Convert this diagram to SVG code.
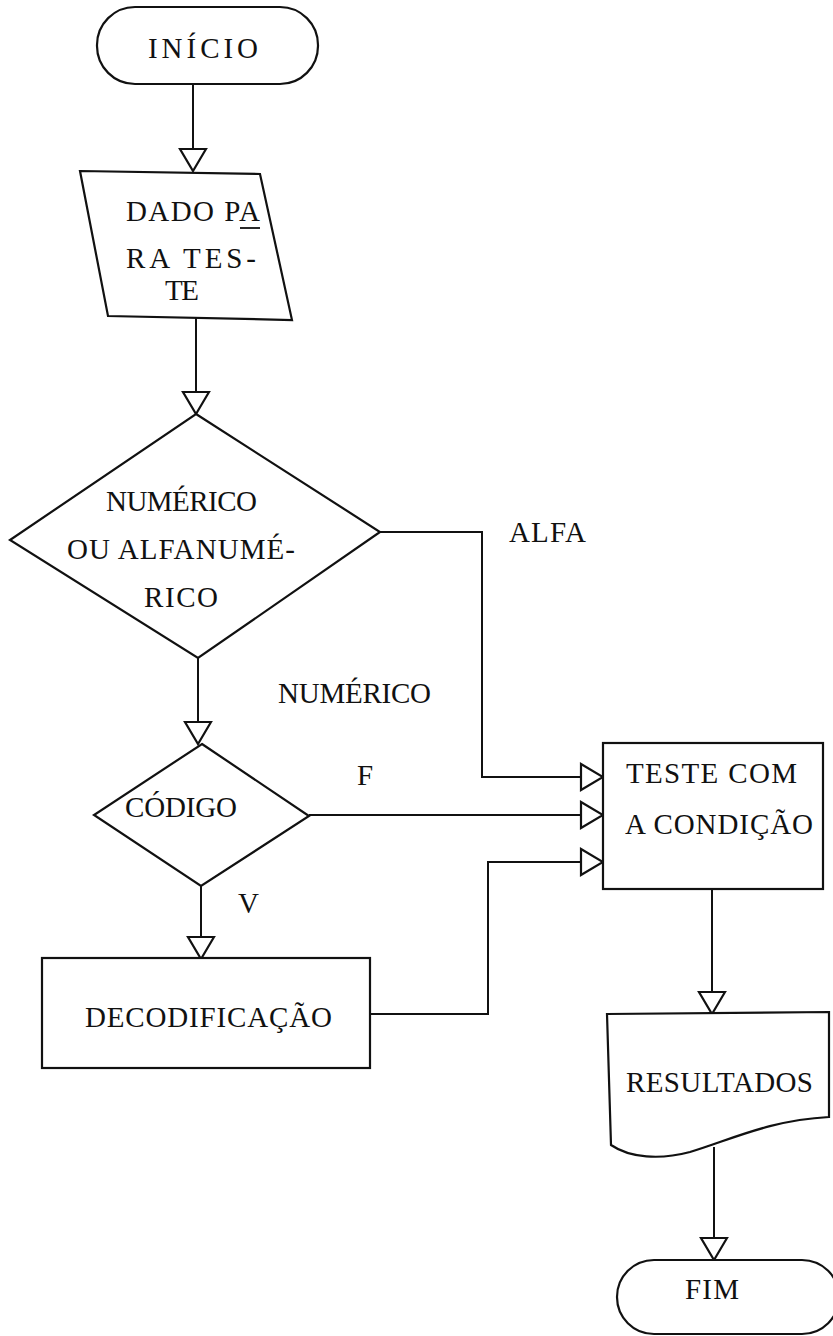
<svg xmlns="http://www.w3.org/2000/svg" width="833" height="1336" viewBox="0 0 833 1336">
<style>
.s{fill:#fff;stroke:#111;stroke-width:2.2;stroke-linejoin:miter}
.c{fill:none;stroke:#111;stroke-width:2}
.t{font-family:"Liberation Serif","Times New Roman",serif;font-size:29px;fill:#111}
</style>
<defs>
<marker id="ah" markerUnits="userSpaceOnUse" markerWidth="26" markerHeight="30" refX="22" refY="13" orient="auto" viewBox="-2 -2 26 30">
<path d="M0,0 L22,13 L0,26 Z" fill="#fff" stroke="#111" stroke-width="2.2"/>
</marker>
</defs>
<rect width="833" height="1336" fill="#fff"/>
<g id="connectors">
<path class="c" d="M193,84 V171" marker-end="url(#ah)"/>
<path class="c" d="M196,318 V414" marker-end="url(#ah)"/>
<path class="c" d="M198,658 V744" marker-end="url(#ah)"/>
<path class="c" d="M380,532 H482 V777 H603" marker-end="url(#ah)"/>
<path class="c" d="M309,815 H603" marker-end="url(#ah)"/>
<path class="c" d="M201,886 V959" marker-end="url(#ah)"/>
<path class="c" d="M370,1014 H488 V862 H603" marker-end="url(#ah)"/>
<path class="c" d="M712,889 V1014" marker-end="url(#ah)"/>
<path class="c" d="M714,1147 V1260" marker-end="url(#ah)"/>
</g>
<g id="inicio">
<rect class="s" x="97" y="7" width="221" height="77" rx="38"/>
<text class="t" x="148" y="58" textLength="110">INÍCIO</text>
</g>
<g id="dado">
<polygon class="s" points="80,171 260,174 292,320 108,316"/>
<text class="t" x="126" y="221" textLength="134">DADO PA</text>
<line x1="240" y1="228" x2="260" y2="228" stroke="#111" stroke-width="1.8"/>
<text class="t" x="126" y="268" textLength="130">RA TES-</text>
<text class="t" x="165" y="300" textLength="34">TE</text>
</g>
<g id="tipo">
<polygon class="s" points="196,414 380,532 198,658 10,540"/>
<text class="t" x="106" y="511" textLength="151">NUMÉRICO</text>
<text class="t" x="67" y="559" textLength="228">OU ALFANUMÉ-</text>
<text class="t" x="144" y="607" textLength="74">RICO</text>
</g>
<g id="codigo">
<polygon class="s" points="202,744 309,816 201,886 94,815"/>
<text class="t" x="125" y="817" textLength="112">CÓDIGO</text>
</g>
<g id="decod">
<rect class="s" x="42" y="958" width="328" height="110"/>
<text class="t" x="85" y="1027" textLength="247">DECODIFICAÇÃO</text>
</g>
<g id="teste">
<rect class="s" x="603" y="743" width="220" height="146"/>
<text class="t" x="626" y="783" textLength="171">TESTE COM</text>
<text class="t" x="625" y="834" textLength="188">A CONDIÇÃO</text>
</g>
<g id="resultados">
<path class="s" d="M607,1014 L829,1012 L829,1117 C770,1120 730,1140 690,1152 C660,1160 630,1158 611,1145 Z"/>
<text class="t" x="626" y="1092" textLength="187">RESULTADOS</text>
</g>
<g id="fim">
<rect class="s" x="617" y="1260" width="222" height="74" rx="37"/>
<text class="t" x="685" y="1299" textLength="54">FIM</text>
</g>
<g id="labels">
<text class="t" x="509" y="542" textLength="77">ALFA</text>
<text class="t" x="278" y="703" textLength="153">NUMÉRICO</text>
<text class="t" x="357" y="785">F</text>
<text class="t" x="238" y="913">V</text>
</g>
</svg>
